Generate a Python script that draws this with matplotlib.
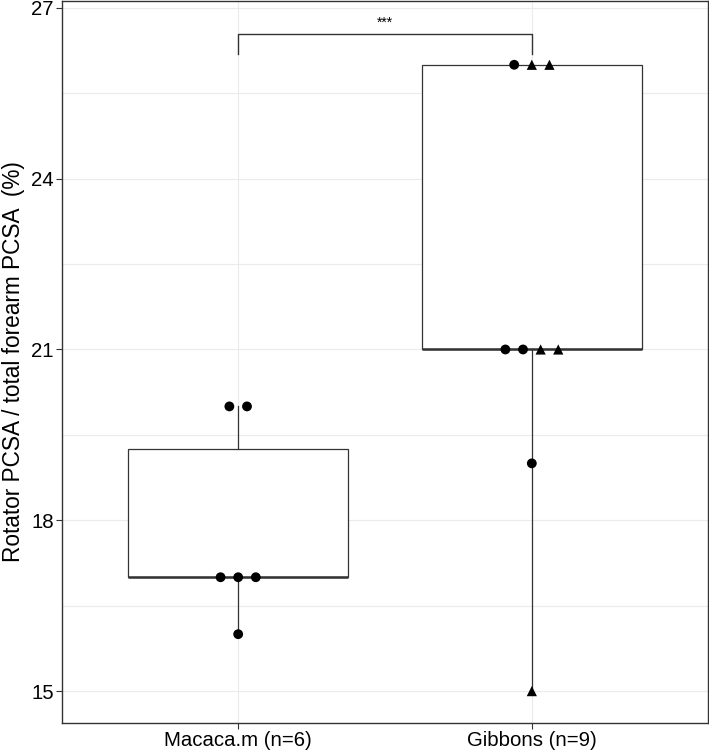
"""
Boxplot: proporción PCSA de rotadores vs PCSA total del antebrazo.
"""

import matplotlib

matplotlib.use("Agg")
import matplotlib.pyplot as plt
import numpy as np

# --- datos ---
categories = ["Macaca.m (n=6)", "Gibbons (n=9)"]
macaca_values = [20, 20, 17, 17, 17, 16]
macaca_group = ["circle"] * 6
gibbon_values = [26, 26, 26, 21, 21, 21, 21, 19, 15]
gibbon_group = ["circle", "triangle", "triangle",
                "circle", "circle", "triangle", "triangle",
                "circle", "triangle"]
signif_label = "***"

plt.rcParams["font.family"] = ["Liberation Sans", "DejaVu Sans"]

DARK = "#333333"
GRID = "#EBEBEB"


def _spread(values, groups, center, step=0.06):
    """Reparte horizontalmente los puntos repetidos (estilo beeswarm)."""
    xs = np.zeros(len(values))
    vals = np.asarray(values)
    for v in np.unique(vals):
        idx = np.where(vals == v)[0]
        idx = sorted(idx, key=lambda i: (groups[i] != "circle", i))
        n = len(idx)
        offs = (np.arange(n) - (n - 1) / 2) * step
        for i, o in zip(idx, offs):
            xs[i] = center + o
    return xs


fig = plt.figure(figsize=(7.09, 7.51), dpi=100)
ax = fig.add_axes([62 / 709, 28 / 751, 646 / 709, 722 / 751])

bp = ax.boxplot(
    [macaca_values, gibbon_values],
    positions=[1, 2],
    widths=0.75,
    whis=1.5,
    showfliers=False,
    showcaps=False,
    patch_artist=True,
    boxprops=dict(facecolor="white", edgecolor=DARK, linewidth=0.9),
    whiskerprops=dict(color=DARK, linewidth=0.9),
    medianprops=dict(color=DARK, linewidth=1.8),
    zorder=2,
)

for center, vals, grp in [(1, macaca_values, macaca_group),
                          (2, gibbon_values, gibbon_group)]:
    xs = _spread(vals, grp, center)
    vals = np.asarray(vals)
    for shape, mk in (("circle", "o"), ("triangle", "^")):
        m = np.array([g == shape for g in grp])
        if m.any():
            ax.scatter(xs[m], vals[m], marker=mk, s=54 if mk == "^" else 50,
                       color="black", edgecolors="none", zorder=4, clip_on=False)

# corchete de significancia
yb, yt = 26.19, 26.54
ax.plot([1, 1, 2, 2], [yb, yt, yt, yb], color=DARK, linewidth=1.0, zorder=3)
ax.text(1.5, 26.74, signif_label, ha="center", va="center", fontsize=10)

ax.set_ylim(14.44, 27.12)
ax.set_xlim(0.4, 2.6)

# grilla estilo theme_bw
ax.set_yticks([15, 18, 21, 24, 27])
ax.set_yticks([16.5, 19.5, 22.5, 25.5], minor=True)
ax.set_xticks([1, 2])
ax.set_xticklabels(categories)
ax.grid(True, which="major", color=GRID, linewidth=0.8)
ax.grid(True, which="minor", axis="y", color=GRID, linewidth=0.8)
ax.set_axisbelow(True)
ax.tick_params(axis="y", which="minor", length=0)
ax.tick_params(axis="both", which="major", length=4, color=DARK, width=0.8,
               labelsize=14.7, labelcolor="black", pad=2)
for s in ax.spines.values():
    s.set_color(DARK)
    s.set_linewidth(1.0)

ax.set_ylabel("Rotator PCSA / total forearm PCSA  (%)", fontsize=16.3, labelpad=4)

fig.savefig("out.png", dpi=100)
